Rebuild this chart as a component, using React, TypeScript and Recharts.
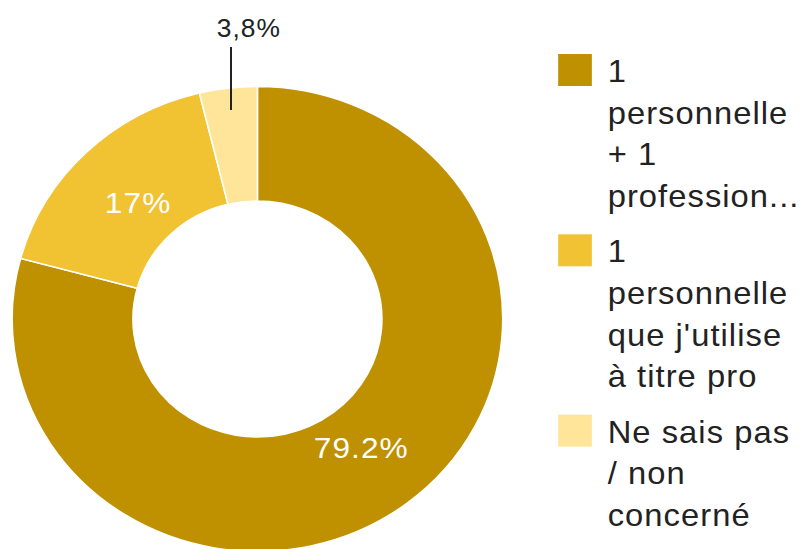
import { PieChart, Pie, Cell, Legend } from "recharts";

const categories = [
  "1 personnelle + 1 professionnelle",
  "1 personnelle que j'utilise à titre pro",
  "Ne sais pas / non concerné",
];
const values = [79.2, 17, 3.8];
const valueLabels = ["79.2%", "17%", "3,8%"];
const legendLines = [
  ["1", "personnelle", "+ 1", "profession..."],
  ["1", "personnelle", "que j'utilise", "à titre pro"],
  ["Ne sais pas", "/ non", "concerné"],
];

const COLORS = ["#BF9000", "#F1C232", "#FFE599"];
const FONT = '"Liberation Sans", Arial, sans-serif';
const RADIAN = Math.PI / 180;

// the reference is slightly stretched horizontally, so draw at 761 wide and scale
const STRETCH = 1.055;
const W = 761;
const H = 549;

const data = categories.map((name, i) => ({ name, value: values[i] }));

function renderLabel(props: any) {
  const { cx, cy, midAngle, outerRadius, index } = props;
  const cos = Math.cos(-midAngle * RADIAN);
  const sin = Math.sin(-midAngle * RADIAN);
  if (index === 2) {
    // small slice: label above with a vertical leader
    const x = cx + (outerRadius - 22) * cos;
    const y = cy + (outerRadius - 22) * sin;
    return (
      <g>
        <line x1={x} y1={y} x2={x} y2={47} stroke="#222" strokeWidth={1.9} />
        <text
          x={x + 17}
          y={37}
          textAnchor="middle"
          fill="#222"
          fontSize={25}
          fontFamily={FONT}
          letterSpacing={1}
        >
          {valueLabels[index]}
        </text>
      </g>
    );
  }
  const r = 162;
  return (
    <text
      x={cx + r * cos}
      y={cy + r * sin}
      textAnchor="middle"
      dominantBaseline="central"
      fill="#ffffff"
      fontSize={30}
      fontFamily={FONT}
      letterSpacing={1}
    >
      {valueLabels[index]}
    </text>
  );
}

function LegendContent(props: any) {
  const payload = props.payload || [];
  const lineH = 41.7;
  let baseline = 82;
  return (
    <svg width={232} height={H}>
      {payload.map((entry: any, i: number) => {
        const lines = legendLines[i];
        const top = baseline;
        baseline += lines.length * lineH + 13.5;
        return (
          <g key={`leg-${i}`}>
            <rect x={0} y={top - 28} width={32} height={32} fill={COLORS[i]} />
            <text
              fill="#222"
              fontSize={31}
              fontFamily={FONT}
              letterSpacing={1}
            >
              {lines.map((ln, j) => (
                <tspan key={j} x={47} y={top + j * lineH}>
                  {ln}
                </tspan>
              ))}
            </text>
          </g>
        );
      })}
    </svg>
  );
}

export default function App() {
  return (
    <div
      style={{
        position: "absolute",
        left: 0,
        top: 0,
        width: W,
        height: H,
        transform: `scaleX(${STRETCH})`,
        transformOrigin: "0 0",
        background: "#ffffff",
      }}
    >
      <PieChart width={W} height={H} margin={{ top: 0, right: 0, bottom: 0, left: 0 }}>
        <Pie
          data={data}
          dataKey="value"
          nameKey="name"
          cx={244}
          cy={319}
          innerRadius={118}
          outerRadius={232.5}
          startAngle={90}
          endAngle={-270}
          stroke="#ffffff"
          strokeWidth={1.5}
          label={renderLabel}
          labelLine={false}
          isAnimationActive={false}
        >
          {data.map((_, index) => (
            <Cell key={`cell-${index}`} fill={COLORS[index]} />
          ))}
        </Pie>
        <Legend
          content={<LegendContent />}
          wrapperStyle={{ position: "absolute", left: 529, top: 0, width: 232, height: H }}
        />
      </PieChart>
    </div>
  );
}
